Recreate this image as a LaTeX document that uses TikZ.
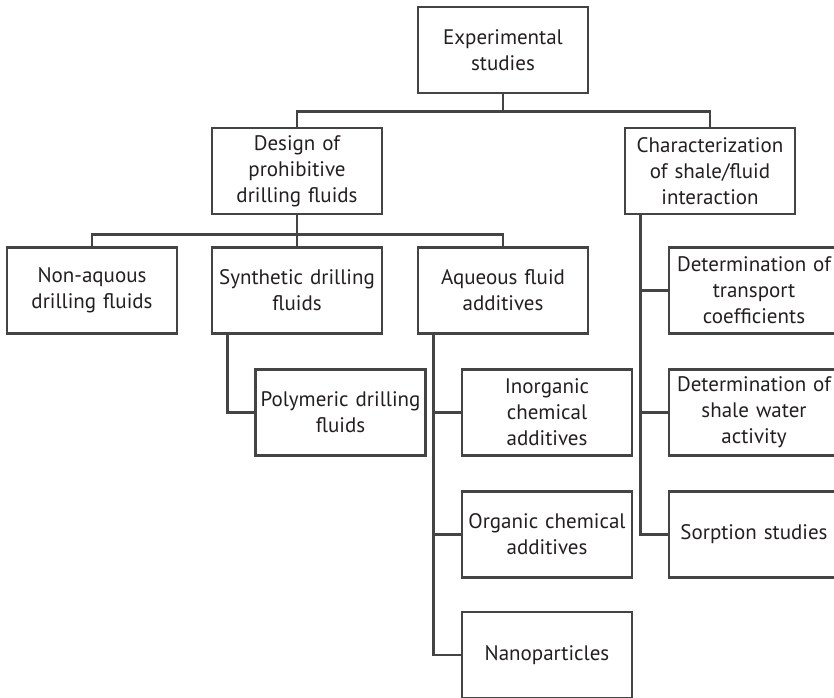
\documentclass[tikz,border=0pt]{standalone}
\usepackage{fontspec}
\setmainfont{PT Sans}
\usepackage{xcolor}
\usetikzlibrary{positioning}
\definecolor{ink}{HTML}{231F20}
\definecolor{rule}{HTML}{444444}

\begin{document}
\begin{tikzpicture}[x=0.5pt,y=-0.5pt,font=\fontsize{10.5}{13}\selectfont,
  box/.style={draw=rule,line width=1.3pt,text=ink,minimum width=85pt,minimum height=43pt,
    text width=80pt,align=center,inner sep=0pt},
  link/.style={draw=rule,line width=1.3pt}]
  \useasboundingbox (0,0) rectangle (834,697);
  \clip (0,0) rectangle (834,697);
  % top level
  \node[box] (exp) at (503,50) {Experimental\\studies};
  \node[box] (design) at (297,171) {Design of\\prohibitive\\drilling fluids};
  \node[box] (char) at (710,171) {Characterization\\of shale/fluid\\interaction};
  % fluid design branch
  \node[box] (nonaq) at (92,290.5) {Non-aquous\\drilling fluids};
  \node[box] (synth) at (297,290.5) {Synthetic drilling\\fluids};
  \node[box] (aq) at (503,290.5) {Aqueous fluid\\additives};
  \node[box] (poly) at (340.5,412.5) {Polymeric drilling\\fluids};
  \node[box] (inorg) at (547,412.5) {Inorganic\\chemical\\additives};
  \node[box] (org) at (547,534.5) {Organic chemical\\additives};
  \node[box] (nano) at (547,655) {Nanoparticles};
  % interaction branch
  \node[box] (trans) at (754,290.5) {Determination of\\transport\\coefficients};
  \node[box] (water) at (754,412.5) {Determination of\\shale water\\activity};
  \node[box] (sorp) at (754,534.5) {Sorption studies};

  \draw[link] (exp.south) -- ++(0,17) -| (design.north);
  \draw[link] (exp.south) -- ++(0,17) -| (char.north);
  \draw[link] (design.south) -- ++(0,19) -| (nonaq.north);
  \draw[link] (design.south) -- (synth.north);
  \draw[link] (design.south) -- ++(0,19) -| (aq.north);
  \draw[link] (synth.south west) ++(17,0) |- (poly.west);
  \foreach \n in {inorg,org,nano}
    \draw[link] (aq.south west) ++(17,0) |- (\n.west);
  \foreach \n in {trans,water,sorp}
    \draw[link] (char.south west) ++(17,0) |- (\n.west);
\end{tikzpicture}
\end{document}
